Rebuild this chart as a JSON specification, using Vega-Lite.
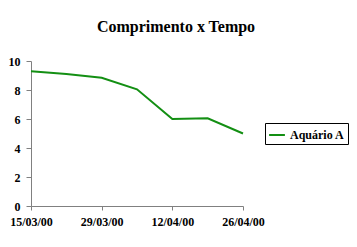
{
  "$schema": "https://vega.github.io/schema/vega-lite/v6.json",
  "width": 212,
  "height": 145,
  "autosize": {"type": "none"},
  "padding": {"left": 31, "top": 61, "right": 114, "bottom": 41},
  "background": "white",
  "title": {
    "text": "Comprimento x Tempo",
    "font": "Liberation Serif",
    "fontSize": 16,
    "fontWeight": "bold",
    "color": "#000000",
    "anchor": "middle",
    "frame": "group",
    "dx": 39,
    "offset": 20
  },
  "data": {
    "values": [
      {"data": "2000/03/15", "comprimento": 9.3, "serie": "Aquário A"},
      {"data": "2000/03/22", "comprimento": 9.1, "serie": "Aquário A"},
      {"data": "2000/03/29", "comprimento": 8.85, "serie": "Aquário A"},
      {"data": "2000/04/05", "comprimento": 8.05, "serie": "Aquário A"},
      {"data": "2000/04/12", "comprimento": 6.0, "serie": "Aquário A"},
      {"data": "2000/04/19", "comprimento": 6.05, "serie": "Aquário A"},
      {"data": "2000/04/26", "comprimento": 5.0, "serie": "Aquário A"}
    ]
  },
  "mark": {"type": "line", "strokeWidth": 2},
  "encoding": {
    "x": {
      "field": "data",
      "type": "temporal",
      "scale": {"domain": [{"year": 2000, "month": 3, "date": 15}, {"year": 2000, "month": 4, "date": 26}], "nice": false},
      "axis": {
        "title": null,
        "values": [
          {"year": 2000, "month": 3, "date": 15},
          {"year": 2000, "month": 3, "date": 29},
          {"year": 2000, "month": 4, "date": 12},
          {"year": 2000, "month": 4, "date": 26}
        ],
        "format": "%d/%m/%y",
        "grid": false,
        "domainColor": "#808080",
        "tickColor": "#808080",
        "tickSize": 4,
        "labelFont": "Liberation Serif",
        "labelFontSize": 12,
        "labelFontWeight": "bold",
        "labelColor": "#000000",
        "labelPadding": 6,
        "labelFlush": false
      }
    },
    "y": {
      "field": "comprimento",
      "type": "quantitative",
      "scale": {"domain": [0, 10], "nice": false},
      "axis": {
        "title": null,
        "values": [0, 2, 4, 6, 8, 10],
        "grid": false,
        "domainColor": "#808080",
        "tickColor": "#808080",
        "tickSize": 5,
        "labelFont": "Liberation Serif",
        "labelFontSize": 12,
        "labelFontWeight": "bold",
        "labelColor": "#000000",
        "labelPadding": 6
      }
    },
    "color": {
      "field": "serie",
      "type": "nominal",
      "scale": {"range": ["#138f13"]},
      "legend": {
        "title": null,
        "orient": "none",
        "legendX": 234,
        "legendY": 62,
        "strokeColor": "#000000",
        "padding": 3,
        "symbolType": "stroke",
        "symbolSize": 250,
        "symbolStrokeWidth": 2,
        "labelFont": "Liberation Serif",
        "labelFontSize": 12,
        "labelFontWeight": "bold",
        "labelColor": "#000000",
        "labelOffset": 4
      }
    }
  },
  "config": {"view": {"stroke": null}}
}
